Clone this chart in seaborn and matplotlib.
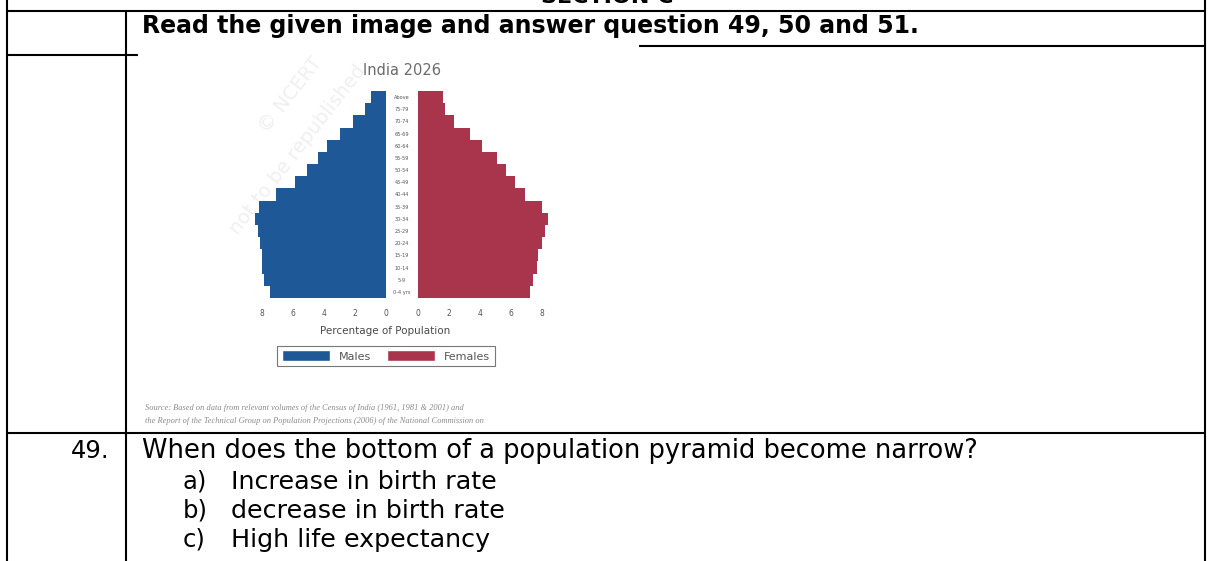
import seaborn as sns
import matplotlib.pyplot as plt
from matplotlib.patches import Patch, Rectangle

# Data (percent of population)
ages = ['Above', '75-79', '70-74', '65-69', '60-64', '55-59', '50-54', '45-49', '40-44',
        '35-39', '30-34', '25-29', '20-24', '15-19', '10-14', '5-9', '0-4 yrs']
males = [1.0, 1.35, 2.1, 3.0, 3.8, 4.4, 5.1, 5.9, 7.1, 8.2, 8.45, 8.25, 8.1, 8.0, 8.0, 7.85, 7.5]
females = [1.6, 1.75, 2.3, 3.35, 4.1, 5.1, 5.7, 6.25, 6.9, 8.0, 8.4, 8.2, 8.0, 7.75, 7.65, 7.45, 7.25]
ticks = [8, 6, 4, 2, 0]

question = 'When does the bottom of a population pyramid become narrow?'
options = [('a)', 'Increase in birth rate'),
           ('b)', 'decrease in birth rate'),
           ('c)', 'High life expectancy')]
source = ['Source: Based on data from relevant volumes of the Census of India (1961, 1981 & 2001) and',
          'the Report of the Technical Group on Population Projections (2006) of the National Commission on']

BLUE = '#1e5896'
RED = '#a8354b'

sns.set_theme(style='white')
plt.rcParams['font.family'] = ['DejaVu Sans']
plt.rcParams['text.color'] = 'black'

W, H = 1209, 561
fig = plt.figure(figsize=(W / 100, H / 100), dpi=100)
fig.patch.set_facecolor('white')


def box(x0, y0, x1, y1):
    # pixel box (top-left origin) -> figure fraction rect
    return [x0 / W, 1 - y1 / H, (x1 - x0) / W, (y1 - y0) / H]


# page layer in pixel coordinates
page = fig.add_axes([0, 0, 1, 1])
page.set_xlim(0, W)
page.set_ylim(H, 0)
page.axis('off')

lw = 1.5
for xs, ys in [([7, 1205], [11, 11]), ([7, 138], [55, 55]), ([639, 1205], [46, 46]),
               ([7, 1205], [433, 433]), ([7, 7], [0, H]), ([126, 126], [11, H]),
               ([1205, 1205], [0, H])]:
    page.plot(xs, ys, color='black', lw=lw, solid_capstyle='butt')

# header row is cut at the top edge, as in the source page
page.text(607, 3, 'SECTION C', ha='center', va='baseline', fontsize=16,
          fontweight='bold', color='black')
page.text(142, 33, 'Read the given image and answer question 49, 50 and 51.',
          ha='left', va='baseline', fontsize=17, fontweight='bold', color='black')
page.text(110, 458, '49.', ha='right', va='baseline', fontsize=17.5, color='black')
page.text(142, 458, question, ha='left', va='baseline', fontsize=18.5, color='black')
for i, (k, txt) in enumerate(options):
    y = 488.5 + 29 * i
    page.text(183, y, k, ha='left', va='baseline', fontsize=17.5, color='black')
    page.text(231, y, txt, ha='left', va='baseline', fontsize=18.3, color='black')

# faint watermark
page.text(290, 95, '\u00a9 NCERT', rotation=52, color='#f0f0f0', fontsize=14,
          ha='center', va='center', rotation_mode='anchor')
page.text(298, 150, 'not to be republished', rotation=52, color='#f0f0f0', fontsize=14,
          ha='center', va='center', rotation_mode='anchor')

page.text(402, 70, 'India 2026', ha='center', va='center', fontsize=10.5, color='#6b6b6b')
page.text(385, 331, 'Percentage of Population', ha='center', va='center',
          fontsize=7.5, color='#4a4a4a')

clip = Rectangle((140, 40), 397, 393, transform=page.transData)
for i, line in enumerate(source):
    t = page.text(145, 408 + 13 * i, line, ha='left', va='center', fontsize=6,
                  style='italic', family='Liberation Serif', color='#8a8a8a')
    t.set_clip_path(clip)

# pyramid: two mirrored axes
scale = 15.5
ax_m = fig.add_axes(box(386 - 9 * scale, 91, 386, 298))
ax_f = fig.add_axes(box(418, 91, 418 + 9 * scale, 298))

sns.barplot(x=males, y=ages, orient='h', color=BLUE, saturation=1, width=1,
            linewidth=0, edgecolor=BLUE, ax=ax_m)
sns.barplot(x=females, y=ages, orient='h', color=RED, saturation=1, width=1,
            linewidth=0, edgecolor=RED, ax=ax_f)

ax_m.set_xlim(9, 0)
ax_f.set_xlim(0, 9)
for ax in (ax_m, ax_f):
    ax.set_ylim(16.5, -0.5)
    ax.set_facecolor('none')
    for s in ax.spines.values():
        s.set_visible(False)
    ax.set_xlabel('')
    ax.set_ylabel('')
    ax.set_xticks(ticks)
    ax.set_xticklabels([str(v) for v in ticks], fontsize=5.5, color='#555555')
    ax.tick_params(axis='x', length=0, pad=8)

ax_m.set_yticks([])
ax_f.set_yticks(range(len(ages)))
ax_f.set_yticklabels(ages, fontsize=3.6, color='#555555')
ax_f.tick_params(axis='y', length=0, pad=11.5)
for lbl in ax_f.get_yticklabels():
    lbl.set_ha('center')

handles = [Patch(facecolor=BLUE, label='Males'), Patch(facecolor=RED, label='Females')]
leg = fig.legend(handles=handles, loc='center', bbox_to_anchor=(386 / W, 1 - 356 / H),
                 ncol=2, fontsize=8, handlelength=4.3, handleheight=1.1, handletextpad=0.8,
                 columnspacing=1.5, frameon=True, fancybox=False, framealpha=1,
                 edgecolor='#777777', borderpad=0.4)
leg.get_frame().set_linewidth(0.8)
for t in leg.get_texts():
    t.set_color('#555555')

fig.savefig('out.png', dpi=100)
